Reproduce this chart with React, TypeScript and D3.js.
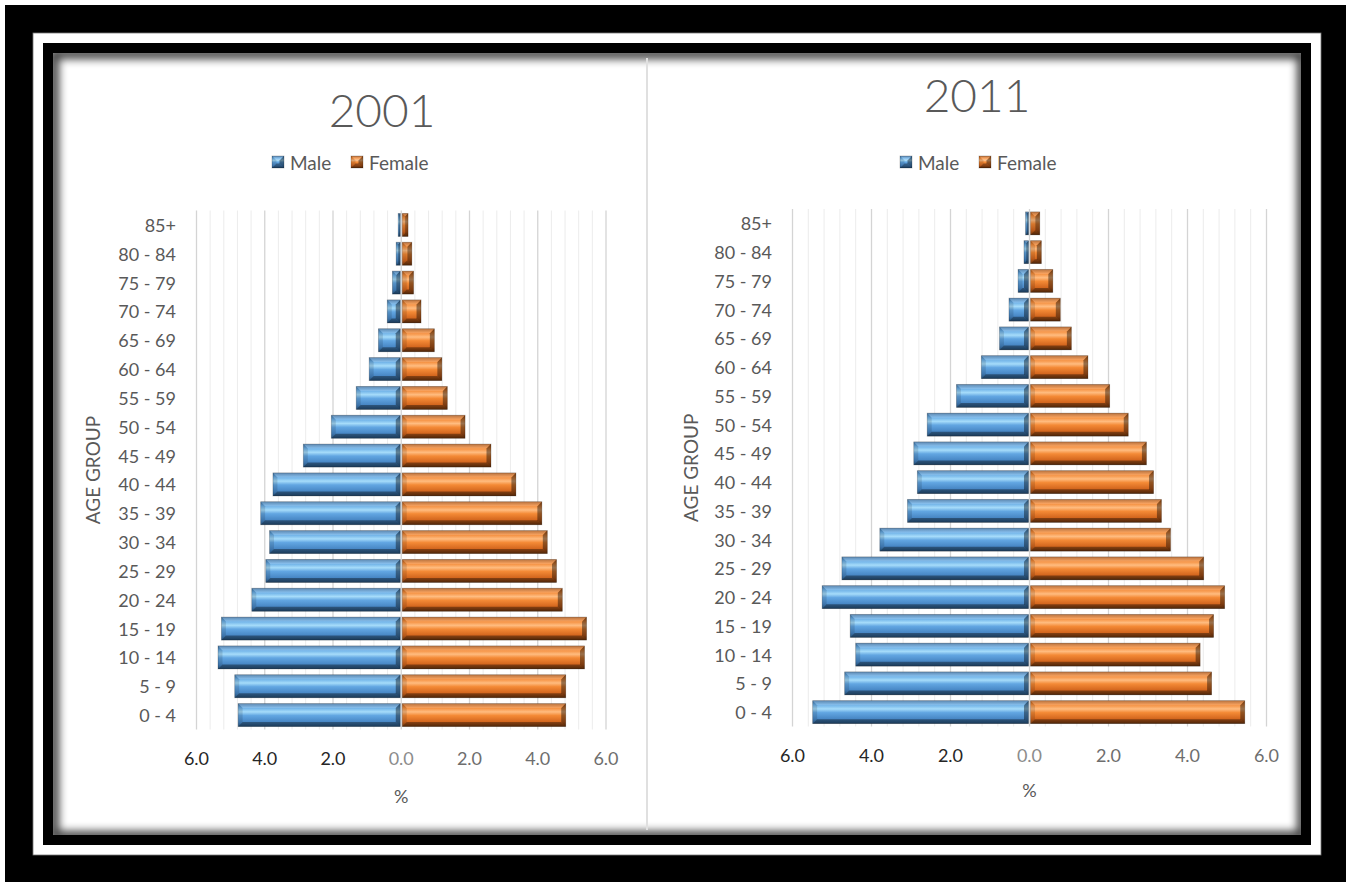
import React from "react";
import * as d3 from "d3";

const ageGroups = [
  "0 - 4", "5 - 9", "10 - 14", "15 - 19", "20 - 24", "25 - 29", "30 - 34", "35 - 39",
  "40 - 44", "45 - 49", "50 - 54", "55 - 59", "60 - 64", "65 - 69", "70 - 74", "75 - 79",
  "80 - 84", "85+",
];

const male2001 = [4.78, 4.88, 5.37, 5.27, 4.38, 3.97, 3.86, 4.12, 3.76, 2.87, 2.05, 1.32, 0.94, 0.67, 0.41, 0.26, 0.15, 0.09];
const female2001 = [4.82, 4.82, 5.37, 5.43, 4.72, 4.55, 4.28, 4.12, 3.36, 2.63, 1.87, 1.35, 1.19, 0.97, 0.58, 0.36, 0.31, 0.2];
const male2011 = [5.49, 4.68, 4.4, 4.54, 5.25, 4.75, 3.79, 3.09, 2.84, 2.93, 2.59, 1.85, 1.22, 0.76, 0.52, 0.29, 0.14, 0.1];
const female2011 = [5.45, 4.61, 4.32, 4.66, 4.94, 4.41, 3.57, 3.34, 3.14, 2.96, 2.5, 2.03, 1.48, 1.06, 0.78, 0.59, 0.3, 0.26];

const xTicks = [-6, -4, -2, 0, 2, 4, 6];
const seriesNames = ["Male", "Female"];

const FONT = "Lato, 'Open Sans', sans-serif";
const W = 1346;
const H = 882;

// layout of each pyramid
const leftLayout = {
  left: 196.5, right: 606, top: 210.5, bottom: 729.5,
  titleX: 382, titleY: 127, legendY: 162, legendX: [272, 351],
  yTitleX: 92, catX: 176, tickY: 758, unitY: 796,
};
const rightLayout = {
  left: 792.5, right: 1266.5, top: 209, bottom: 726.5,
  titleX: 977, titleY: 112, legendY: 162, legendX: [900, 979],
  yTitleX: 690, catX: 772, tickY: 755, unitY: 790,
};

function BevelBar({ x, y, w, h, fill }: { x: number; y: number; w: number; h: number; fill: string }) {
  if (w <= 0) return null;
  const b = Math.min(4.5, w / 2, h / 2);
  const r = x + w;
  const btm = y + h;
  return (
    <g>
      <rect x={x} y={y} width={w} height={h} fill={`url(#${fill})`} />
      <polygon points={`${x},${y} ${r},${y} ${r - b},${y + b} ${x + b},${y + b}`} fill="#fff" opacity={0.18} />
      <polygon points={`${x},${btm} ${r},${btm} ${r - b},${btm - b} ${x + b},${btm - b}`} fill="#000" opacity={0.35} />
      <polygon points={`${x},${y} ${x + b},${y + b} ${x + b},${btm - b} ${x},${btm}`} fill="#000" opacity={0.12} />
      <polygon points={`${r},${y} ${r - b},${y + b} ${r - b},${btm - b} ${r},${btm}`} fill="#000" opacity={0.4} />
      <rect x={x} y={y} width={w} height={h} fill="none" stroke="#000" strokeOpacity={0.25} strokeWidth={0.8} />
    </g>
  );
}

function Pyramid({ title, male, female, L }: { title: string; male: number[]; female: number[]; L: typeof leftLayout }) {
  const x = d3.scaleLinear().domain([-6, 6]).range([L.left, L.right]);
  const y = d3
    .scaleBand<string>()
    .domain([...ageGroups].reverse())
    .range([L.top, L.bottom])
    .paddingInner(0.2)
    .paddingOuter(0.1);
  const grid = d3.range(-15, 16).map((i) => ({ v: i * 0.4, major: i % 5 === 0 }));
  const x0 = x(0);
  const midY = (L.top + L.bottom) / 2;

  return (
    <g fontFamily={FONT}>
      <text x={L.titleX} y={L.titleY} textAnchor="middle" fontSize={46} fontWeight={300} fill="#595959">
        {title}
      </text>

      {seriesNames.map((s, i) => (
        <g key={s}>
          <BevelBar x={L.legendX[i]} y={L.legendY - 6} w={12} h={12} fill={i === 0 ? "gMale" : "gFemale"} />
          <text x={L.legendX[i] + 18} y={L.legendY} dominantBaseline="central" fontSize={19} fill="#595959">
            {s}
          </text>
        </g>
      ))}

      {grid.map((g) => (
        <line
          key={g.v}
          x1={x(g.v)}
          x2={x(g.v)}
          y1={L.top}
          y2={L.bottom}
          stroke={g.major ? "#d4d4d4" : "#ececec"}
          strokeWidth={g.major ? 1.3 : 1}
        />
      ))}

      {ageGroups.map((a, i) => {
        const by = y(a)!;
        const bh = y.bandwidth();
        return (
          <g key={a}>
            <BevelBar x={x(-male[i])} y={by} w={x0 - x(-male[i]) - 1} h={bh} fill="gMale" />
            <BevelBar x={x0 + 1} y={by} w={x(female[i]) - x0 - 1} h={bh} fill="gFemale" />
            <text
              x={L.catX}
              y={by + bh / 2}
              textAnchor="end"
              dominantBaseline="central"
              fontSize={18}
              fill="#595959"
            >
              {a}
            </text>
          </g>
        );
      })}

      {xTicks.map((t) => (
        <text
          key={t}
          x={x(t)}
          y={L.tickY}
          textAnchor="middle"
          dominantBaseline="central"
          fontSize={18}
          fill={t < 0 ? "#262626" : t === 0 ? "#8c8c8c" : "#6e6e6e"}
        >
          {Math.abs(t).toFixed(1)}
        </text>
      ))}

      <text x={x0} y={L.unitY} textAnchor="middle" dominantBaseline="central" fontSize={18} fill="#595959">
        %
      </text>
      <text
        transform={`translate(${L.yTitleX},${midY}) rotate(-90)`}
        textAnchor="middle"
        dominantBaseline="central"
        fontSize={19}
        fill="#595959"
      >
        AGE GROUP
      </text>
    </g>
  );
}

export default function App() {
  return (
    <svg
      width={W}
      height={H}
      style={{ position: "absolute", left: 0, top: 0, background: "#fff" }}
    >
      <defs>
        <linearGradient id="gMale" x1="0" y1="0" x2="0" y2="1">
          <stop offset="0%" stopColor="#3a6e9f" />
          <stop offset="18%" stopColor="#6aaee6" />
          <stop offset="36%" stopColor="#a6dcfa" />
          <stop offset="52%" stopColor="#62a6e2" />
          <stop offset="80%" stopColor="#4786c4" />
          <stop offset="100%" stopColor="#2a5a88" />
        </linearGradient>
        <linearGradient id="gFemale" x1="0" y1="0" x2="0" y2="1">
          <stop offset="0%" stopColor="#a85416" />
          <stop offset="18%" stopColor="#f48c3a" />
          <stop offset="36%" stopColor="#ffbc80" />
          <stop offset="52%" stopColor="#f48a36" />
          <stop offset="80%" stopColor="#d2651d" />
          <stop offset="100%" stopColor="#7a3a0c" />
        </linearGradient>
        <filter id="soft" x="-5%" y="-5%" width="110%" height="110%">
          <feGaussianBlur stdDeviation="4" />
        </filter>
        <clipPath id="panelClip">
          <rect x={53} y={53} width={1248} height={782} />
        </clipPath>
      </defs>

      {/* picture frame */}
      <rect x={5} y={5} width={W - 5} height={H - 5} fill="#000" />
      <rect x={33} y={33} width={1288} height={822} fill="#fff" stroke="#777" strokeWidth={0.8} />
      <rect x={43} y={43} width={1268} height={802} fill="#000" />
      <rect x={53} y={53} width={1248} height={782} fill="#fff" />
      <g clipPath="url(#panelClip)">
        <rect
          x={54}
          y={54}
          width={1248}
          height={782}
          fill="none"
          stroke="#000"
          strokeOpacity={0.75}
          strokeWidth={10}
          filter="url(#soft)"
        />
      </g>
      <line x1={647} x2={647} y1={58} y2={830} stroke="#e0e0e0" strokeWidth={2} />

      <Pyramid title="2001" male={male2001} female={female2001} L={leftLayout} />
      <Pyramid title="2011" male={male2011} female={female2011} L={rightLayout} />
    </svg>
  );
}
